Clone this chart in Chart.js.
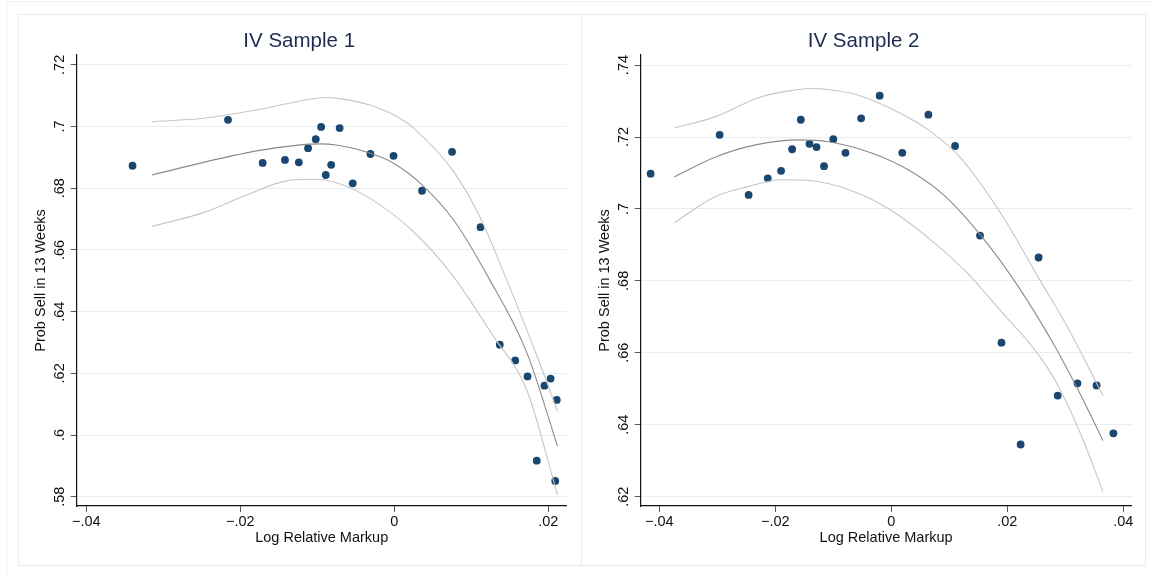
<!DOCTYPE html>
<html>
<head>
<meta charset="utf-8">
<script src="https://cdn.jsdelivr.net/npm/chart.js@4/dist/chart.umd.min.js"></script>
<style>
  body { margin: 0; background: #fff; width: 1153px; height: 575px; overflow: hidden; position: relative; }
  #outer { position: absolute; left: 6px; top: 1px; width: 1170px; height: 600px; border: 1px solid #edf2f3; }
  .panel { position: absolute; top: 14px; height: 552px; border: 1px solid #e4ecee; box-sizing: border-box; }
  canvas { position: absolute; top: 14px; }
</style>
</head>
<body>
<div id="outer"></div>
<div class="panel" style="left:18px;width:564px"></div>
<div class="panel" style="left:581px;width:565px"></div>
<canvas id="chart1" width="564" height="552" style="left:18px"></canvas>
<canvas id="chart2" width="565" height="552" style="left:581px"></canvas>
<script>
// IV Sample 1
const scatter1X = [-0.0340, -0.0216, -0.0171, -0.0142, -0.0124, -0.0112, -0.0102, -0.0095, -0.0089, -0.0082, -0.0071, -0.0054, -0.0031, -0.0001, 0.0036, 0.0075, 0.0112, 0.0137, 0.0157, 0.0173, 0.0195, 0.0203, 0.0211, 0.0185, 0.0209];
const scatter1Y = [0.6873, 0.7022, 0.6882, 0.6892, 0.6884, 0.6930, 0.6959, 0.6999, 0.6843, 0.6876, 0.6995, 0.6816, 0.6911, 0.6905, 0.6792, 0.6918, 0.6674, 0.6293, 0.6242, 0.6190, 0.6160, 0.6183, 0.6114, 0.5917, 0.5851];
const fit1X = [-0.0315, -0.0218, -0.0157, -0.0097, -0.0075, -0.0032, -0.0001, 0.0036, 0.0077, 0.0124, 0.0172, 0.0212];
const fit1Y = [0.6843, 0.6901, 0.6930, 0.6944, 0.6940, 0.6914, 0.6881, 0.6811, 0.6697, 0.6503, 0.6268, 0.5964];
const upper1X = [-0.0315, -0.0248, -0.0174, -0.0140, -0.0088, -0.0066, -0.0032, -0.0001, 0.0025, 0.0077, 0.0111, 0.0146, 0.0189, 0.0212];
const upper1Y = [0.7016, 0.7027, 0.7056, 0.7074, 0.7094, 0.7089, 0.7070, 0.7038, 0.6995, 0.6854, 0.6708, 0.6503, 0.6232, 0.6077];
const lower1X = [-0.0315, -0.0248, -0.0192, -0.0140, -0.0105, -0.0075, -0.0032, 0.0025, 0.0077, 0.0129, 0.0172, 0.0212];
const lower1Y = [0.6676, 0.6721, 0.6778, 0.6824, 0.6829, 0.6818, 0.6768, 0.6659, 0.6513, 0.6319, 0.6146, 0.5806];
const xTicks1 = [-0.04, -0.02, 0, 0.02];
const xTickLabels1 = ['\u2212.04', '\u2212.02', '0', '.02'];
const yTicks1 = [0.58, 0.60, 0.62, 0.64, 0.66, 0.68, 0.70, 0.72];
const yTickLabels1 = ['.58', '.6', '.62', '.64', '.66', '.68', '.7', '.72'];

// IV Sample 2
const scatter2X = [-0.0415, -0.0296, -0.0246, -0.0213, -0.0190, -0.0171, -0.0156, -0.0141, -0.0129, -0.0116, -0.0100, -0.0079, -0.0052, -0.0020, 0.0019, 0.0064, 0.0110, 0.0153, 0.0254, 0.0190, 0.0223, 0.0287, 0.0321, 0.0354, 0.0383];
const scatter2Y = [0.7098, 0.7206, 0.7039, 0.7085, 0.7106, 0.7166, 0.7248, 0.7181, 0.7172, 0.7119, 0.7194, 0.7156, 0.7252, 0.7315, 0.7156, 0.7262, 0.7175, 0.6926, 0.6865, 0.6628, 0.6345, 0.6481, 0.6515, 0.6509, 0.6376];
const fit2X = [-0.0374, -0.0304, -0.0234, -0.0159, -0.0108, -0.0033, 0.0030, 0.0093, 0.0156, 0.0219, 0.0282, 0.0333, 0.0365];
const fit2Y = [0.7089, 0.7144, 0.7178, 0.7192, 0.7187, 0.7155, 0.7108, 0.7035, 0.6923, 0.6784, 0.6618, 0.6462, 0.6356];
const upper2X = [-0.0374, -0.0304, -0.0228, -0.0184, -0.0140, -0.0115, -0.0058, 0.0018, 0.0068, 0.0118, 0.0188, 0.0257, 0.0301, 0.0365];
const upper2Y = [0.7225, 0.7256, 0.7310, 0.7326, 0.7335, 0.7333, 0.7317, 0.7264, 0.7215, 0.7145, 0.6990, 0.6800, 0.6680, 0.6481];
const lower2X = [-0.0374, -0.0304, -0.0247, -0.0190, -0.0140, -0.0064, -0.0001, 0.0068, 0.0131, 0.0192, 0.0244, 0.0282, 0.0325, 0.0365];
const lower2Y = [0.6962, 0.7034, 0.7062, 0.7081, 0.7079, 0.7048, 0.6997, 0.6914, 0.6822, 0.6710, 0.6615, 0.6525, 0.6380, 0.6215];
const xTicks2 = [-0.04, -0.02, 0, 0.02, 0.04];
const xTickLabels2 = ['\u2212.04', '\u2212.02', '0', '.02', '.04'];
const yTicks2 = [0.62, 0.64, 0.66, 0.68, 0.70, 0.72, 0.74];
const yTickLabels2 = ['.62', '.64', '.66', '.68', '.7', '.72', '.74'];

const FONT = '"Liberation Sans", Arial, Helvetica, sans-serif';
Chart.defaults.font.family = FONT;
Chart.defaults.color = '#111';

function pts(xs, ys) {
  return xs.map((x, i) => ({ x: x, y: ys[i] }));
}

function lineSet(xs, ys, color) {
  return {
    data: pts(xs, ys), showLine: true, borderColor: color, borderWidth: 1.1,
    pointRadius: 0, cubicInterpolationMode: 'monotone', fill: false
  };
}

function makeChart(id, opt) {
  const ctx = document.getElementById(id).getContext('2d');
  return new Chart(ctx, {
    type: 'scatter',
    data: {
      datasets: [
        lineSet(opt.fitX, opt.fitY, '#8a8a8a'),
        lineSet(opt.upX, opt.upY, '#c6c6c6'),
        lineSet(opt.loX, opt.loY, '#c6c6c6'),
        {
          data: pts(opt.sx, opt.sy), backgroundColor: '#1a476f', borderWidth: 0,
          pointRadius: 3.9, showLine: false
        }
      ]
    },
    options: {
      responsive: false,
      animation: false,
      layout: { padding: { left: opt.padL, right: opt.padR, top: 0, bottom: 15 } },
      plugins: {
        legend: { display: false },
        tooltip: { enabled: false },
        title: {
          display: true, text: opt.title, color: '#1e2c52',
          font: { size: 20.5, weight: 'normal', family: FONT },
          padding: { top: 15.4, bottom: 1.0 }
        }
      },
      scales: {
        x: {
          type: 'linear', min: opt.xMin, max: opt.xMax,
          afterBuildTicks: s => { s.ticks = opt.xTicks.map(v => ({ value: v })); },
          afterFit: s => { s.height = 45; s.paddingLeft = 0; s.paddingRight = 0; },
          ticks: {
            autoSkip: false, maxRotation: 0, padding: 1,
            font: { size: 14.5 }, color: '#111',
            callback: (v, i) => opt.xLabels[i]
          },
          grid: { drawOnChartArea: false, drawTicks: true, tickLength: 6, tickColor: '#555' },
          border: { display: true, color: '#111', width: 1.2 },
          title: {
            display: true, text: 'Log Relative Markup', color: '#111',
            font: { size: 14.5 }, padding: { top: 0, bottom: 4.8 }
          }
        },
        y: {
          type: 'linear', min: opt.yMin, max: opt.yMax,
          afterBuildTicks: s => { s.ticks = opt.yTicks.map(v => ({ value: v })); },
          afterFit: s => { s.width = 45; s.paddingTop = 0; s.paddingBottom = 0; },
          ticks: {
            autoSkip: false, minRotation: 90, maxRotation: 90, crossAlign: 'center', padding: 1,
            font: { size: 14.5 }, color: '#111',
            callback: (v, i) => opt.yLabels[i]
          },
          grid: { color: '#e6eef0', lineWidth: 1, drawTicks: true, tickLength: 6, tickColor: '#555' },
          border: { display: true, color: '#111', width: 1.2 },
          title: {
            display: true, text: 'Prob Sell in 13 Weeks', color: '#111',
            font: { size: 14.5 }, padding: { top: 0.8, bottom: 0 }
          }
        }
      }
    }
  });
}

makeChart('chart1', {
  title: 'IV Sample 1',
  sx: scatter1X, sy: scatter1Y, fitX: fit1X, fitY: fit1Y,
  upX: upper1X, upY: upper1Y, loX: lower1X, loY: lower1Y,
  xMin: -0.04125, xMax: 0.02239, yMin: 0.577, yMax: 0.7232,
  xTicks: xTicks1, xLabels: xTickLabels1, yTicks: yTicks1, yLabels: yTickLabels1,
  padL: 13.7, padR: 15.3
});

makeChart('chart2', {
  title: 'IV Sample 2',
  sx: scatter2X, sy: scatter2Y, fitX: fit2X, fitY: fit2Y,
  upX: upper2X, upY: upper2Y, loX: lower2X, loY: lower2Y,
  xMin: -0.04321, xMax: 0.04142, yMin: 0.6174, yMax: 0.7428,
  xTicks: xTicks2, xLabels: xTickLabels2, yTicks: yTicks2, yLabels: yTickLabels2,
  padL: 14.7, padR: 14.5
});
</script>
</body>
</html>
